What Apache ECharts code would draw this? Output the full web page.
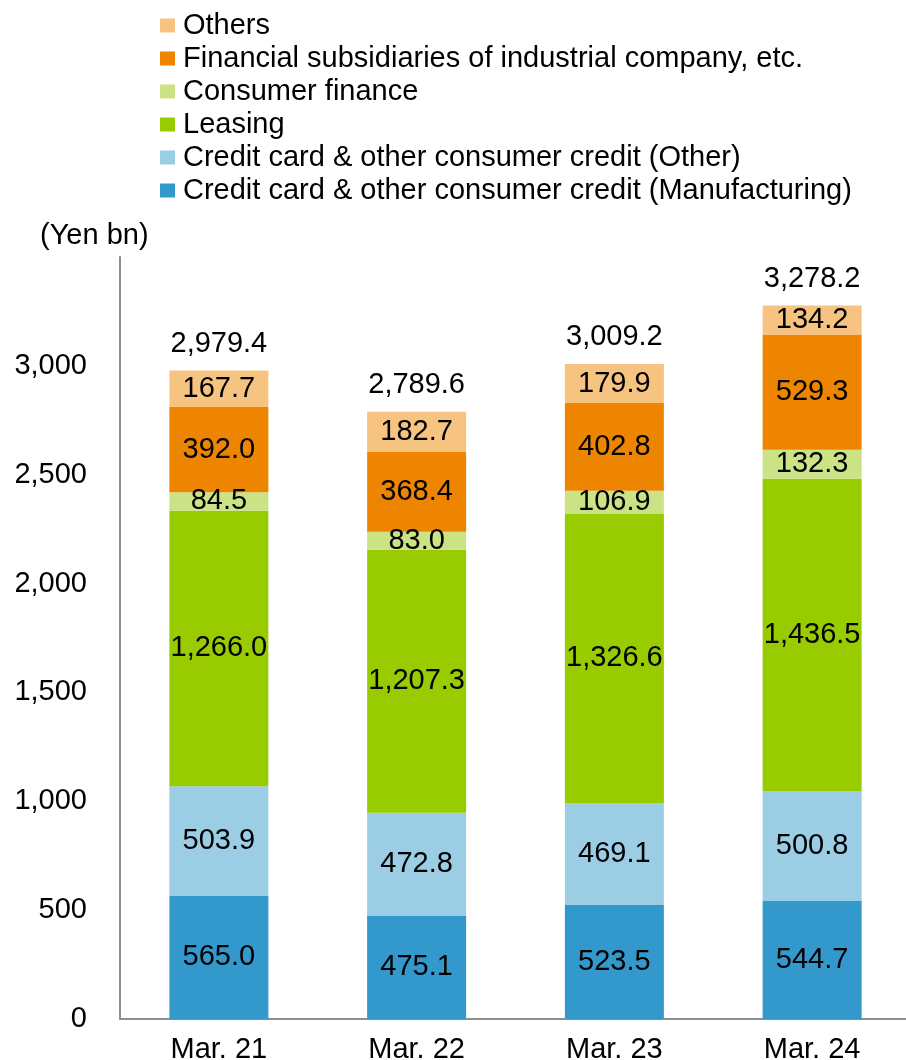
<!DOCTYPE html>
<html>
<head>
<meta charset="utf-8">
<script src="https://cdn.jsdelivr.net/npm/echarts@6/dist/echarts.min.js"></script>
<style>
  html, body { margin: 0; padding: 0; background: #fff; }
  #chart { width: 906px; height: 1060px; }
</style>
</head>
<body>
<div id="chart"></div>
<script>
const categories = ['Mar. 21', 'Mar. 22', 'Mar. 23', 'Mar. 24']
const creditMfg = [565.0, 475.1, 523.5, 544.7]
const creditOther = [503.9, 472.8, 469.1, 500.8]
const leasing = [1266.0, 1207.3, 1326.6, 1436.5]
const consumerFinance = [84.5, 83.0, 106.9, 132.3]
const financialSubs = [392.0, 368.4, 402.8, 529.3]
const others = [167.7, 182.7, 179.9, 134.2]
const totals = [2979.4, 2789.6, 3009.2, 3278.2]

const FONT = 'Liberation Sans, Arial, sans-serif'
const FS = 29
const fmt = (v) => v.toLocaleString('en-US', { minimumFractionDigits: 1, maximumFractionDigits: 1 })

const layers = [
  { name: 'Credit card & other consumer credit (Manufacturing)', data: creditMfg, color: '#3399cc' },
  { name: 'Credit card & other consumer credit (Other)', data: creditOther, color: '#9bcde5' },
  { name: 'Leasing', data: leasing, color: '#99cc00' },
  { name: 'Consumer finance', data: consumerFinance, color: '#cce385' },
  { name: 'Financial subsidiaries of industrial company, etc.', data: financialSubs, color: '#ee8500' },
  { name: 'Others', data: others, color: '#f6c480' },
]

const series = layers.map((l) => ({
  name: l.name,
  type: 'bar',
  stack: 'total',
  barWidth: 99,
  data: l.data,
  itemStyle: { color: l.color },
  label: {
    show: true,
    position: 'inside',
    color: '#000',
    fontSize: FS,
    fontFamily: FONT,
    formatter: (p) => fmt(p.value),
  },
}))

// transparent bar only to carry the total above each stack
series.push({
  name: 'Total',
  type: 'bar',
  barWidth: 99,
  barGap: '-100%',
  data: totals,
  itemStyle: { color: 'rgba(0,0,0,0)' },
  silent: true,
  z: 1,
  label: {
    show: true,
    position: 'top',
    distance: 12,
    color: '#000',
    fontSize: FS,
    fontFamily: FONT,
    formatter: (p) => fmt(p.value),
  },
})

const chart = echarts.init(document.getElementById('chart'))
chart.setOption({
  animation: false,
  textStyle: { fontFamily: FONT },
  title: {
    text: '(Yen bn)',
    left: 35,
    top: 216,
    textStyle: { fontSize: FS, fontWeight: 'normal', color: '#000', fontFamily: FONT },
  },
  legend: {
    orient: 'vertical',
    left: 155,
    top: 4,
    itemWidth: 15,
    itemHeight: 14,
    itemGap: 0,
    icon: 'rect',
    data: layers.map((l) => l.name).reverse(),
    textStyle: { fontSize: FS, lineHeight: 33, color: '#000', fontFamily: FONT, padding: [0, 0, 0, 3] },
  },
  grid: { left: 120, top: 257, width: 791, height: 762, outerBoundsMode: 'none' },
  xAxis: {
    type: 'category',
    data: categories,
    axisLine: { lineStyle: { color: '#8e8e8e', width: 2 } },
    axisTick: { show: false },
    axisLabel: { color: '#000', fontSize: FS, margin: 16, fontFamily: FONT },
  },
  yAxis: {
    type: 'value',
    min: 0,
    max: 3500,
    interval: 500,
    splitLine: { show: false },
    axisLine: { show: true, lineStyle: { color: '#8e8e8e', width: 2 } },
    axisTick: { show: false },
    axisLabel: {
      color: '#000',
      fontSize: FS,
      margin: 33,
      fontFamily: FONT,
      formatter: (v) => (v === 3500 ? '' : v.toLocaleString('en-US')),
    },
  },
  series: series,
})
</script>
</body>
</html>
